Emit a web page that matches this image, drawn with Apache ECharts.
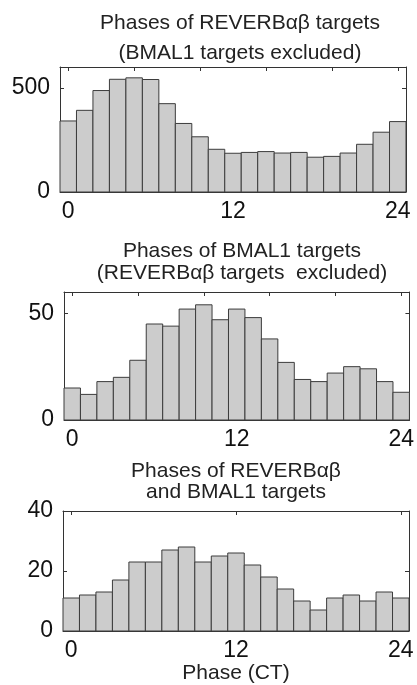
<!DOCTYPE html>
<html>
<head>
<meta charset="utf-8">
<script src="https://cdn.jsdelivr.net/npm/echarts@6/dist/echarts.min.js"></script>
<style>
  html, body { margin: 0; padding: 0; background: #fff; }
  #chart { width: 417px; height: 685px; }
</style>
</head>
<body>
<div id="chart"></div>
<script>
// bin centres (CT), 21 bins of 1.2 h
var binCenters = [0, 1.2, 2.4, 3.6, 4.8, 6, 7.2, 8.4, 9.6, 10.8, 12, 13.2, 14.4, 15.6, 16.8, 18, 19.2, 20.4, 21.6, 22.8, 24];
var binHalf = 0.6;

// counts
var reverbOnly = [341, 392, 487, 541, 548, 540, 424, 329, 265, 205, 186, 190, 194, 187, 190, 167, 171, 187, 229, 287, 338];
var bmalOnly = [15, 12, 18, 20, 28, 45, 44, 52, 54, 47, 52, 48, 38, 27, 19, 18, 22, 25, 24, 18, 13];
var bothTargets = [11, 12, 13, 17, 23, 23, 27, 28, 23, 25, 26, 22, 18, 14, 10, 7, 11, 12, 10, 13, 11];

var xLabels = [0, 12, 24];
var xTicksFine = [0, 4.8, 9.6, 14.4, 19.2, 24];
var yTicks1 = [0, 500];
var yTicks2 = [0, 50];
var yTicks3 = [0, 20, 40];

var FONT = 'Liberation Sans, Arial, sans-serif';
var LINE = '#333';

var panels = [
    { data: reverbOnly, ymax: 600, yTicks: yTicks1, xTicks: xTicksFine,
      grid: { left: 60, top: 67, width: 346, height: 125 },
      title: 'Phases of REVERBαβ targets\n(BMAL1 targets excluded)', tx: 240, ty: 8, lh: 30 },
    { data: bmalOnly, ymax: 60, yTicks: yTicks2, xTicks: xTicksFine,
      grid: { left: 64, top: 292, width: 346, height: 128 },
      title: 'Phases of BMAL1 targets\n(REVERBαβ targets  excluded)', tx: 242, ty: 240, lh: 22 },
    { data: bothTargets, ymax: 40, yTicks: yTicks3, xTicks: xLabels,
      grid: { left: 63, top: 511, width: 346, height: 123 },
      title: 'Phases of REVERBαβ\nand BMAL1 targets', tx: 236, ty: 461, lh: 21 }
];

function renderBin(params, api) {
    var x = api.value(0), y = api.value(1);
    var p0 = api.coord([x - binHalf, 0]);
    var p1 = api.coord([x + binHalf, y]);
    return {
        type: 'rect',
        shape: { x: p0[0], y: p1[1], width: p1[0] - p0[0], height: p0[1] - p1[1] },
        style: { fill: '#cccccc', stroke: '#3c3c3c', lineWidth: 1 }
    };
}

var option = {
    animation: false,
    backgroundColor: '#fff',
    title: [], grid: [], xAxis: [], yAxis: [], series: []
};

panels.forEach(function (p, i) {
    option.title.push({
        text: p.title, left: p.tx, top: p.ty, textAlign: 'center', padding: 0,
        textStyle: { fontFamily: FONT, fontSize: 21, fontWeight: 'normal', color: '#222', lineHeight: p.lh }
    });
    option.grid.push(Object.assign({ containLabel: false }, p.grid));

    var xBase = {
        type: 'value', gridIndex: i, min: -binHalf, max: 24 + binHalf,
        splitLine: { show: false },
        axisLine: { show: true, onZero: false, lineStyle: { color: LINE, width: 1 } },
        axisTick: { show: true, inside: true, length: 4, customValues: p.xTicks, lineStyle: { color: LINE } }
    };
    option.xAxis.push(Object.assign({}, xBase, {
        position: 'bottom',
        axisLabel: { customValues: xLabels, margin: 8, fontFamily: FONT, fontSize: 23, color: '#111' },
        name: i === 2 ? 'Phase (CT)' : '',
        nameLocation: 'middle', nameGap: 32,
        nameTextStyle: { fontFamily: FONT, fontSize: 21, color: '#222' }
    }));
    option.xAxis.push(Object.assign({}, xBase, { position: 'top', axisLabel: { show: false } }));

    var yBase = {
        type: 'value', gridIndex: i, min: 0, max: p.ymax,
        splitLine: { show: false },
        axisLine: { show: true, onZero: false, lineStyle: { color: LINE, width: 1 } },
        axisTick: { show: true, inside: true, length: 4, customValues: p.yTicks, lineStyle: { color: LINE } }
    };
    option.yAxis.push(Object.assign({}, yBase, {
        position: 'left',
        axisLabel: { customValues: p.yTicks, margin: 10, fontFamily: FONT, fontSize: 23, color: '#111' }
    }));
    option.yAxis.push(Object.assign({}, yBase, { position: 'right', axisLabel: { show: false } }));

    option.series.push({
        type: 'custom',
        xAxisIndex: i * 2, yAxisIndex: i * 2,
        renderItem: renderBin,
        encode: { x: 0, y: 1 },
        data: binCenters.map(function (c, k) { return [c, p.data[k]]; })
    });
});

var myChart = echarts.init(document.getElementById('chart'));
myChart.setOption(option);
</script>
</body>
</html>
